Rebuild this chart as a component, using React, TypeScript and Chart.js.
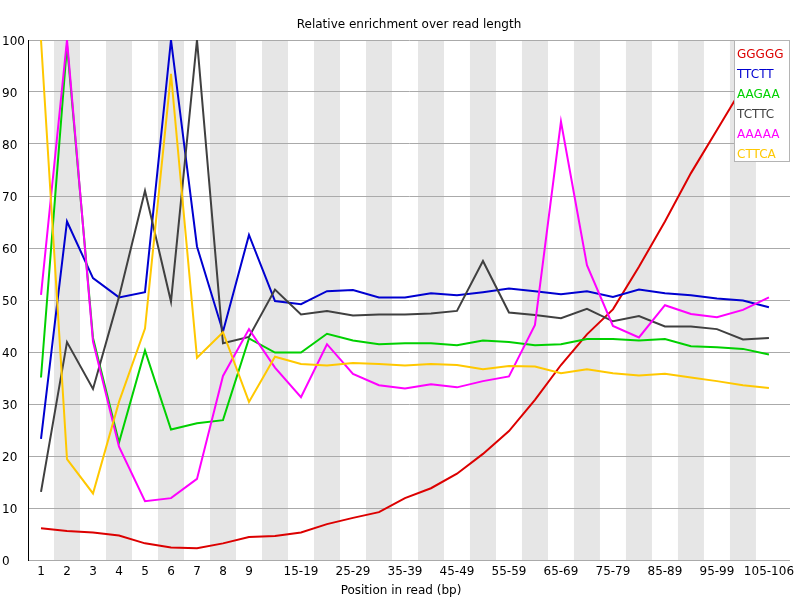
import { useEffect, useRef } from "react";
import { Chart, registerables } from "chart.js";

Chart.register(...registerables);

const positions = [
  "1", "2", "3", "4", "5", "6", "7", "8", "9",
  "10-14", "15-19", "20-24", "25-29", "30-34", "35-39", "40-44", "45-49",
  "50-54", "55-59", "60-64", "65-69", "70-74", "75-79", "80-84", "85-89",
  "90-94", "95-99", "100-104", "105-106",
];

const kmers = ["GGGGG", "TTCTT", "AAGAA", "TCTTC", "AAAAA", "CTTCA"];
const kmerColors = ["#dc0000", "#0000d0", "#00d000", "#404040", "#ff00ff", "#ffc800"];

const ggggg = [6.1, 5.6, 5.3, 4.7, 3.2, 2.4, 2.25, 3.2, 4.4, 4.6, 5.3, 6.9, 8.1, 9.2, 11.9, 13.8, 16.6, 20.4, 24.8, 30.8, 37.5, 43.4, 48.2, 56.4, 65.1, 74.4, 82.7, 91, 99.5];
const ttctt = [23.3, 65.1, 54.2, 50.5, 51.5, 100, 60.3, 43.9, 62.5, 49.8, 49.2, 51.7, 51.9, 50.5, 50.5, 51.3, 50.9, 51.5, 52.2, 51.7, 51.1, 51.7, 50.6, 52.0, 51.3, 50.9, 50.3, 49.9, 48.6];
const aagaa = [35.1, 99, 42.7, 22.6, 40.3, 25.1, 26.3, 26.9, 42.6, 39.9, 39.9, 43.5, 42.2, 41.5, 41.7, 41.7, 41.3, 42.2, 41.9, 41.3, 41.5, 42.5, 42.5, 42.2, 42.5, 41.1, 40.9, 40.6, 39.5];
const tcttc = [13.1, 41.9, 32.9, 50.6, 71.0, 49.7, 100, 41.7, 42.9, 52.0, 47.2, 47.9, 47.0, 47.2, 47.2, 47.4, 47.9, 57.5, 47.6, 47.1, 46.5, 48.3, 45.9, 46.9, 44.9, 44.9, 44.4, 42.4, 42.7];
const aaaaa = [51.0, 100, 42.0, 21.8, 11.3, 11.9, 15.6, 35.4, 44.4, 37.0, 31.3, 41.5, 35.8, 33.6, 33.0, 33.8, 33.2, 34.4, 35.3, 45.2, 84.3, 56.7, 45.0, 42.8, 49.0, 47.3, 46.7, 48.1, 50.5];
const cttca = [100, 19.4, 12.8, 30.4, 44.5, 93.5, 38.9, 43.8, 30.4, 39.1, 37.7, 37.4, 37.9, 37.7, 37.4, 37.7, 37.5, 36.7, 37.3, 37.2, 35.9, 36.7, 35.9, 35.5, 35.8, 35.1, 34.4, 33.6, 33.1];

const series = [ggggg, ttctt, aagaa, tcttc, aaaaa, cttca];

const FONT = '12px "DejaVu Sans"';

// alternating grey columns behind the lines
const bandsPlugin = {
  id: "bands",
  beforeDraw(chart: Chart) {
    const { ctx, chartArea } = chart;
    const x = chart.scales.x;
    ctx.save();
    ctx.fillStyle = "#e6e6e6";
    for (let i = 1; i < positions.length; i += 2) {
      const l = x.getPixelForValue(i - 0.5);
      const r = x.getPixelForValue(i + 0.5);
      ctx.fillRect(l, chartArea.top, r - l, chartArea.bottom - chartArea.top);
    }
    ctx.restore();
  },
};

// titles and boxed legend like the FastQC image
const decorPlugin = {
  id: "decor",
  afterDraw(chart: Chart) {
    const { ctx, chartArea } = chart;
    ctx.save();
    ctx.font = FONT;
    ctx.fillStyle = "#000";
    ctx.textAlign = "center";
    ctx.textBaseline = "middle";
    ctx.fillText("Relative enrichment over read length", (chartArea.left + chartArea.right) / 2, 25);
    ctx.fillText("Position in read (bp)", 401, 591);

    const right = chartArea.right;
    const left = right - 56;
    const top = chartArea.top;
    const h = 121;
    ctx.fillStyle = "#fff";
    ctx.fillRect(left, top, right - left, h);
    ctx.strokeStyle = "#b4b4b4";
    ctx.lineWidth = 1;
    ctx.strokeRect(left + 0.5, top + 0.5, right - left - 1, h);
    ctx.textAlign = "left";
    kmers.forEach((k, i) => {
      ctx.fillStyle = kmerColors[i];
      ctx.fillText(k, left + 3, top + 15 + i * 20);
    });
    ctx.restore();
  },
};

export default function App() {
  const chartRef = useRef<HTMLCanvasElement>(null);
  const chartInstance = useRef<Chart | null>(null);

  useEffect(() => {
    if (!chartRef.current) return;
    if (chartInstance.current) chartInstance.current.destroy();
    const ctx = chartRef.current.getContext("2d");
    if (!ctx) return;

    Chart.defaults.font.family = '"DejaVu Sans"';
    Chart.defaults.font.size = 12;
    Chart.defaults.color = "#000";

    chartInstance.current = new Chart(ctx, {
      type: "line",
      data: {
        datasets: kmers.map((k, idx) => ({
          label: k,
          data: series[idx].map((v, i) => ({ x: i, y: v })),
          borderColor: kmerColors[idx],
          backgroundColor: kmerColors[idx],
          borderWidth: 2,
          pointRadius: 0,
          tension: 0,
          order: kmers.length - idx,
        })),
      },
      options: {
        responsive: true,
        maintainAspectRatio: false,
        animation: false,
        layout: { padding: { left: 2, right: 10, top: 40, bottom: 0 } },
        scales: {
          x: {
            type: "linear",
            min: -0.5,
            max: 28.81,
            afterBuildTicks: (scale: any) => {
              scale.ticks = positions.map((_, i) => ({ value: i }));
            },
            afterFit: (scale: any) => {
              scale.height = 40;
            },
            ticks: {
              autoSkip: false,
              maxRotation: 0,
              padding: 5,
              callback: (v: any) => {
                const i = Number(v);
                return i < 9 || i % 2 === 0 ? positions[i] : "";
              },
            },
            grid: { display: false, drawTicks: false },
            border: { display: false },
          },
          y: {
            min: 0,
            max: 100,
            afterFit: (scale: any) => {
              scale.width = 26;
            },
            ticks: { stepSize: 10, padding: 0, crossAlign: "far", labelOffset: 2 },
            grid: { color: "#aaaaaa", lineWidth: 1, drawTicks: false },
            border: { display: true, color: "#000", width: 1 },
          },
        },
        plugins: {
          legend: { display: false },
          title: { display: false },
          tooltip: { enabled: false },
        },
      },
      plugins: [bandsPlugin, decorPlugin],
    });

    return () => {
      if (chartInstance.current) {
        chartInstance.current.destroy();
        chartInstance.current = null;
      }
    };
  }, []);

  return (
    <div style={{ position: "absolute", left: 0, top: 0, width: 800, height: 600, background: "#fff" }}>
      <canvas ref={chartRef} />
    </div>
  );
}
